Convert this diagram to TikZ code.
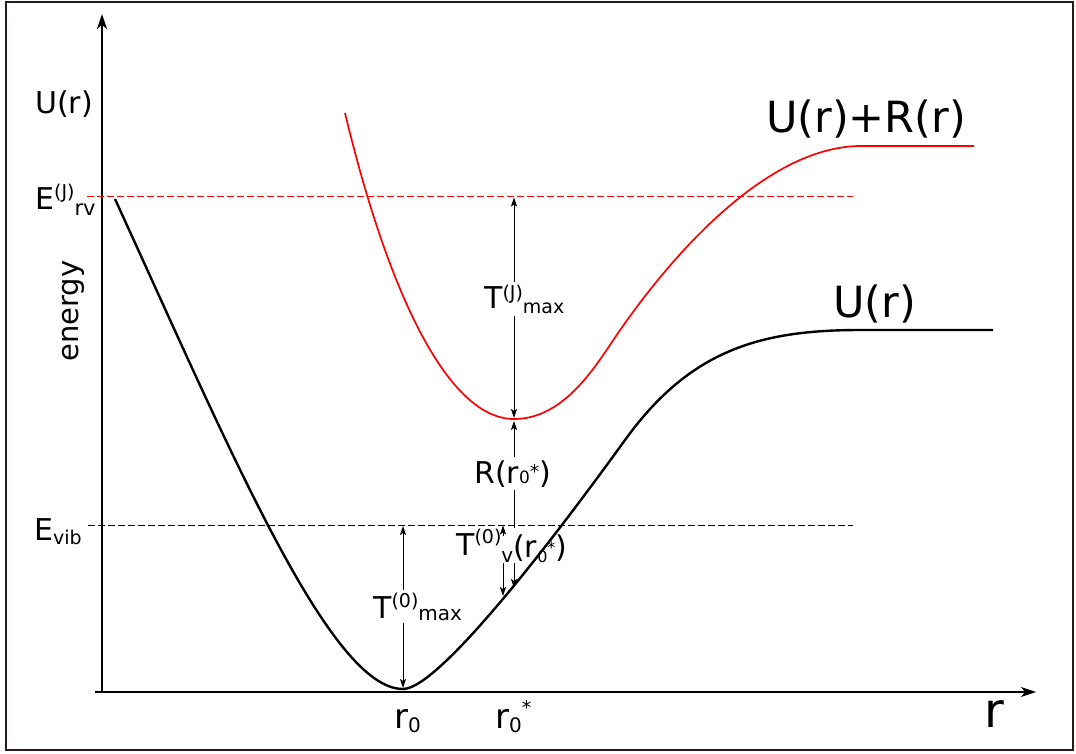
\documentclass[tikz,border=0pt]{standalone}
\usepackage{fontspec}
\setmainfont{DejaVu Sans}
\usetikzlibrary{arrows.meta}
\newcommand{\fsz}[1]{\fontsize{#1}{#1}\selectfont}
\newcommand{\upbox}[3]{\raisebox{#1pt}{\fsz{#2}#3}}
\newcommand{\dnbox}[3]{\raisebox{-#1pt}{\fsz{#2}#3}}
\definecolor{framecol}{HTML}{2B1A1A}
\tikzset{
  lbl/.style={anchor=base west, inner xsep=0pt, inner ysep=0pt},
  lblw/.style={anchor=base west, inner xsep=1pt, inner ysep=3pt, fill=white},
  axis/.style={line width=1.6pt, -{Stealth[length=15pt,width=10pt,inset=4pt]}},
  dim/.style={line width=0.9pt, {Stealth[length=9pt,width=6pt,inset=2pt]}-{Stealth[length=9pt,width=6pt,inset=2pt]}},
  sdim/.style={line width=0.9pt, -{Stealth[length=9pt,width=6pt,inset=2pt]}},
  redcurve/.style={red, line width=1.7pt},
  blackcurve/.style={black, line width=2.4pt},
  rdash/.style={red, line width=1pt, dash pattern=on 7pt off 3pt},
  bdash/.style={black, line width=1pt, dash pattern=on 7pt off 3pt},
}
\begin{document}
\begin{tikzpicture}[x=1pt,y=-1pt]
\useasboundingbox (0,0) rectangle (1076,753);
\fill[white] (0,0) rectangle (1076,753);
\draw[line width=2pt, framecol] (6,2) rectangle (1073,750);

% axes
\coordinate (yb) at (102,693);
\coordinate (yt) at (102,14);
\coordinate (xl) at (95,692);
\coordinate (xr) at (1036,692);
\draw[axis] (yb) -- (yt);
\draw[axis] (xl) -- (xr);

% dashed levels
\coordinate (rdl) at (87,196);
\coordinate (rdr) at (853,196);
\coordinate (bdl) at (88,525);
\coordinate (bdr) at (853,525);
\draw[rdash] (rdl) -- (rdr);
\draw[bdash] (bdl) -- (bdr);

% dimension arrows
\coordinate (tja) at (514,197.5);
\coordinate (tjb) at (514,418);
\coordinate (ra) at (514,421);
\coordinate (rb) at (514,588);
\coordinate (tma) at (403,526);
\coordinate (tmb) at (403,688);
\draw[dim] (tjb) -- (tja);
\draw[dim] (ra) -- (rb);
\draw[dim] (tma) -- (tmb);

% labels
\node[lbl, font=\fsz{30}] (Ul) at (35,113) {U(r)};
\node[lbl, font=\fsz{30}] (Erv) at (35,209) {E\upbox{11}{19}{(J)}\dnbox{6}{21}{rv}};
\node[rotate=90, anchor=base, inner sep=0pt, font=\fsz{29}] (en) at (78,311) {energy};
\node[lbl, font=\fsz{30}] (Evib) at (34,540) {E\dnbox{4}{19}{vib}};
\node[lblw, font=\fsz{30}] (TJ) at (483,308) {T\upbox{9}{19}{(J)}\dnbox{5}{19}{max}};
\node[lblw, font=\fsz{30}] (Rr) at (473,483) {R(r{\fsz{17}0}\upbox{5}{19}{*})};
\node[anchor=base west, inner xsep=1pt, inner ysep=1pt, fill=white, font=\fsz{30}] (Tv) at (455,555) {T\upbox{12}{19}{(0)}\dnbox{7}{20}{v}\dnbox{2}{30}{(r\dnbox{5}{16}{0}\upbox{4}{16}{*})}};
\node[lblw, font=\fsz{30}] (Tm) at (372,618) {T\upbox{11}{19}{(0)}\dnbox{2}{20}{max}};
\node[lbl, font=\fsz{34}] (r0) at (394,728) {r\dnbox{4}{20}{0}};
\node[lbl, font=\fsz{34}] (r0s) at (495,728) {r\dnbox{4}{20}{0}\upbox{14}{19}{*}};
\node[lbl, font=\fsz{48}] (rax) at (984,727) {r};
\node[lbl, font=\fsz{43}] (UR) at (766,132) {U(r)+R(r)};
\node[lbl, font=\fsz{43}] (Ur) at (833,317) {U(r)};

% small arrows for T(0)v
\coordinate (sa1) at (503,536);
\coordinate (sa2) at (503,525.5);
\coordinate (sb1) at (503,563);
\coordinate (sb2) at (503,596);
\draw[sdim] (sa1) -- (sa2);
\draw[sdim] (sb1) -- (sb2);

% curves
\draw[blackcurve, line join=round]
  (115,199) .. controls (230,450) and (330,689) .. (403,689)
  .. controls (440,689) and (560,530) .. (625,440)
  .. controls (690,350) and (760,330) .. (860,330)
  -- (993,330);
\draw[redcurve, line join=round]
  (345,113) .. controls (390,300) and (450,419) .. (514,419)
  .. controls (560,419) and (590,375) .. (612,342)
  .. controls (660,270) and (760,147) .. (860,146)
  -- (974,146);
\end{tikzpicture}
\end{document}
